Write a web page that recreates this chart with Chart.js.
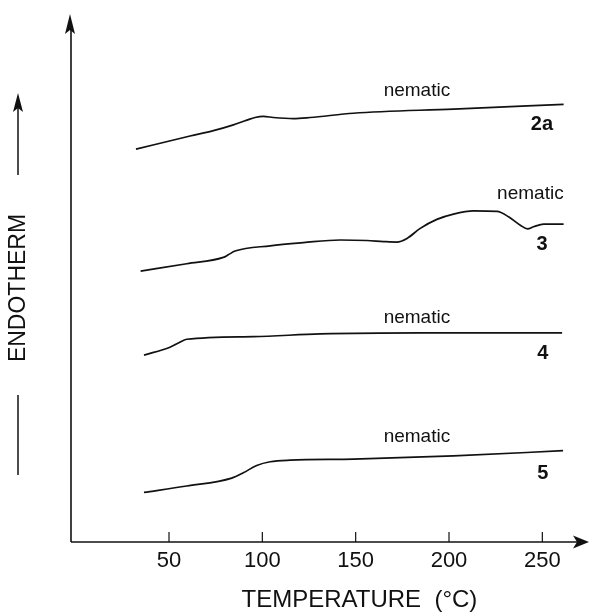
<!DOCTYPE html>
<html>
<head>
<meta charset="utf-8">
<title>DSC traces</title>
<script src="https://cdn.jsdelivr.net/npm/chart.js@4.4.1/dist/chart.umd.min.js"></script>
<style>
  html, body { margin: 0; padding: 0; background: #fff; }
  #wrap { width: 590px; height: 615px; position: relative; }
</style>
</head>
<body>
<div id="wrap"><canvas id="dscChart"></canvas></div>
<script>
// temperature (°C) and endotherm signal (arbitrary units) for each sample
const temp2a = [32.3, 61.3, 73.8, 84.5, 91.7, 96.1, 100.6, 105.9, 116.6, 125.6, 148.8, 202.4, 261.4];
const endo2a = [74.4, 76.9, 77.9, 79.0, 79.9, 80.4, 80.6, 80.4, 80.2, 80.4, 81.2, 82.0, 82.9];

const temp3 = [34.8, 59.5, 79.1, 81.8, 85.4, 104.2, 122.0, 141.7, 156.0, 164.9, 172.1, 177.5, 184.6, 193.5, 202.4, 213.2, 225.7, 231.9, 238.2, 242.1, 245.3, 250.7, 261.4];
const endo3 = [51.3, 52.7, 53.9, 54.4, 55.1, 56.1, 56.7, 57.2, 57.1, 56.9, 56.8, 57.5, 59.4, 61.1, 62.1, 62.7, 62.6, 61.6, 60.0, 59.3, 59.7, 60.2, 60.2];

const temp4 = [36.6, 50.5, 55.0, 59.5, 95.2, 131.0, 184.6, 260.6];
const endo4 = [35.4, 36.9, 37.7, 38.4, 38.9, 39.4, 39.6, 39.6];

const temp5 = [36.6, 59.5, 83.6, 89.8, 97.0, 104.2, 114.9, 148.8, 202.4, 261.1];
const endo5 = [9.4, 10.6, 12.1, 13.1, 14.5, 15.2, 15.5, 15.7, 16.3, 17.3];

const sampleNames = ['2a', '3', '4', '5'];
const phaseName = 'nematic';
const xTicks = [50, 100, 150, 200, 250];
const xTitle = 'TEMPERATURE  (\u00B0C)';
const yTitle = 'ENDOTHERM';

// where the phase text and sample names sit, in data units
const phaseSpots = [[182.8, 85.5], [243.6, 65.9], [182.8, 42.4], [182.8, 19.9]];
const nameSpots = [[249.8, 79.0], [249.8, 56.3], [250.3, 35.7], [250.3, 13.0]];

const FONT = '"Liberation Sans", Arial, Helvetica, sans-serif';

function toPoints(xs, ys) {
    return xs.map((x, i) => ({ x: x, y: ys[i] }));
}

const traces = [
    toPoints(temp2a, endo2a),
    toPoints(temp3, endo3),
    toPoints(temp4, endo4),
    toPoints(temp5, endo5)
];

// arrow head helper
function arrowHead(ctx, tipX, tipY, dir, len, half) {
    ctx.beginPath();
    if (dir === 'up') {
        ctx.moveTo(tipX, tipY);
        ctx.lineTo(tipX - half, tipY + len);
        ctx.lineTo(tipX, tipY + len - 4);
        ctx.lineTo(tipX + half, tipY + len);
    } else {
        ctx.moveTo(tipX, tipY);
        ctx.lineTo(tipX - len, tipY - half);
        ctx.lineTo(tipX - len + 4, tipY);
        ctx.lineTo(tipX - len, tipY + half);
    }
    ctx.closePath();
    ctx.fill();
}

// axes, ticks and all the text
const decorations = {
    id: 'decorations',
    afterDraw(chart) {
        const ctx = chart.ctx;
        const xs = chart.scales.x;
        const ys = chart.scales.y;
        const area = chart.chartArea;
        ctx.save();
        ctx.strokeStyle = '#111';
        ctx.fillStyle = '#111';
        ctx.lineWidth = 1.6;

        // y axis with arrow
        ctx.beginPath();
        ctx.moveTo(area.left, area.bottom);
        ctx.lineTo(area.left, area.top + 12);
        ctx.stroke();
        arrowHead(ctx, area.left - 1, area.top, 'up', 20, 5);

        // x axis with arrow
        ctx.beginPath();
        ctx.moveTo(area.left, area.bottom);
        ctx.lineTo(area.right - 10, area.bottom);
        ctx.stroke();
        arrowHead(ctx, area.right, area.bottom, 'right', 16, 6.5);

        // ticks and tick labels
        ctx.font = '22px ' + FONT;
        ctx.textAlign = 'center';
        ctx.textBaseline = 'middle';
        ctx.lineWidth = 1.2;
        xTicks.forEach(t => {
            const px = xs.getPixelForValue(t);
            ctx.beginPath();
            ctx.moveTo(px, area.bottom);
            ctx.lineTo(px, area.bottom - 10);
            ctx.stroke();
            ctx.fillText(String(t), px, area.bottom + 19);
        });

        // x title
        ctx.font = '24px ' + FONT;
        ctx.fillText(xTitle, xs.getPixelForValue(152), area.bottom + 58);

        // y title with its arrow and line
        const yx = 18;
        ctx.save();
        ctx.translate(yx + 1, 288);
        ctx.rotate(-Math.PI / 2);
        ctx.font = '23px ' + FONT;
        ctx.fillText(yTitle, 0, 0);
        ctx.restore();
        ctx.lineWidth = 1.5;
        ctx.beginPath();
        ctx.moveTo(yx, 175);
        ctx.lineTo(yx, 105);
        ctx.stroke();
        arrowHead(ctx, yx, 93, 'up', 19, 5);
        ctx.beginPath();
        ctx.moveTo(yx, 395);
        ctx.lineTo(yx, 475);
        ctx.stroke();

        // phase and sample labels
        phaseSpots.forEach(([t, v]) => {
            ctx.font = '19px ' + FONT;
            ctx.fillText(phaseName, xs.getPixelForValue(t), ys.getPixelForValue(v));
        });
        nameSpots.forEach(([t, v], i) => {
            ctx.font = 'bold 20px ' + FONT;
            ctx.fillText(sampleNames[i], xs.getPixelForValue(t), ys.getPixelForValue(v));
        });
        ctx.restore();
    }
};

const dscCtx = document.getElementById('dscChart').getContext('2d');
const dscChart = new Chart(dscCtx, {
    type: 'line',
    data: {
        datasets: traces.map((pts, i) => ({
            label: sampleNames[i],
            data: pts,
            borderColor: '#111',
            borderWidth: 1.7,
            pointRadius: 0,
            fill: false,
            cubicInterpolationMode: 'monotone'
        }))
    },
    options: {
        responsive: true,
        maintainAspectRatio: false,
        animation: false,
        layout: {
            padding: { left: 71, right: 1, top: 14, bottom: 73 }
        },
        plugins: {
            legend: { display: false },
            tooltip: { enabled: false }
        },
        scales: {
            x: {
                type: 'linear',
                display: false,
                min: -2.5,
                max: 275
            },
            y: {
                display: false,
                min: 0,
                max: 100
            }
        }
    },
    plugins: [decorations]
});
</script>
</body>
</html>
